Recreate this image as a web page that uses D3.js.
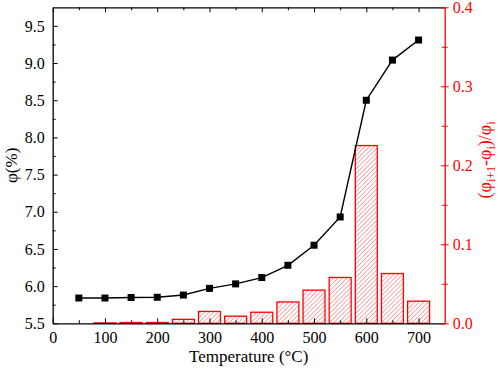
<!DOCTYPE html>
<html>
<head>
<meta charset="utf-8">
<script src="https://cdn.jsdelivr.net/npm/d3@7"></script>
<style>
  body { margin: 0; background: #fff; }
  svg text { font-family: Liberation Serif, Tinos, Times New Roman, Times, serif !important; }
</style>
</head>
<body>
<div id="graph"></div>
<script>
// temperatures (°C)
var temps = [50, 100, 150, 200, 250, 300, 350, 400, 450, 500, 550, 600, 650, 700];
// porosity φ (%)
var phi = [5.84, 5.84, 5.847, 5.85, 5.88, 5.97, 6.03, 6.115, 6.28, 6.55, 6.93, 8.50, 9.04, 9.31];
// relative change (φi+1 - φi)/φi, bars from 100 °C
var barTemps = [100, 150, 200, 250, 300, 350, 400, 450, 500, 550, 600, 650, 700];
var rate = [0.0005, 0.001, 0.001, 0.005, 0.015, 0.009, 0.014, 0.027, 0.042, 0.058, 0.225, 0.063, 0.028];

var xTicks = [0, 100, 200, 300, 400, 500, 600, 700];
var yLeftTicks = [5.5, 6.0, 6.5, 7.0, 7.5, 8.0, 8.5, 9.0, 9.5];
var yRightTicks = [0.0, 0.1, 0.2, 0.3, 0.4];

var width = 498, height = 370;
var pLeft = 52.7, pRight = 444.7, pTop = 7.3, pBottom = 323.3;
var red = '#ff0000';

var svg = d3.select('#graph')
    .append('svg')
        .attr('width', width)
        .attr('height', height);

var x = d3.scaleLinear().domain([0, 750]).range([pLeft, pRight]);
var y = d3.scaleLinear().domain([5.5, 9.75]).range([pBottom, pTop]);
var y2 = d3.scaleLinear().domain([0, 0.4]).range([pBottom, pTop]);

// bars: white fill, red diagonal hatch clipped to each bar, red outline
var barW = x(42) - x(0);
var defs = svg.append('defs');
barTemps.forEach(function(t, i) {
    defs.append('clipPath')
        .attr('id', 'clip' + i)
        .append('rect')
        .attr('x', x(t) - barW / 2)
        .attr('y', y2(rate[i]))
        .attr('width', barW)
        .attr('height', pBottom - y2(rate[i]));
});
var bars = svg.append('g');
barTemps.forEach(function(t, i) {
    var x0 = x(t) - barW / 2, y0 = y2(rate[i]);
    var h = pBottom - y0;
    var g = bars.append('g').attr('clip-path', 'url(#clip' + i + ')');
    g.append('rect')
        .attr('x', x0).attr('y', y0).attr('width', barW).attr('height', h)
        .attr('fill', '#fff');
    var hatch = [];
    for (var s = -barW; s < h + barW; s += 4.5) hatch.push(s);
    g.selectAll('line')
        .data(hatch)
        .enter().append('line')
        .attr('x1', x0)
        .attr('y1', function(s) { return pBottom - s; })
        .attr('x2', x0 + barW)
        .attr('y2', function(s) { return pBottom - s - barW; })
        .attr('stroke', '#ff7070')
        .attr('stroke-width', 0.8);
    bars.append('rect')
        .attr('x', x0).attr('y', y0).attr('width', barW).attr('height', h)
        .attr('fill', 'none')
        .attr('stroke', red)
        .attr('stroke-width', 1.3);
});

// x axis bottom (ticks inward)
svg.append('g')
    .attr('transform', 'translate(0,' + pBottom + ')')
    .call(d3.axisBottom(x).tickValues(xTicks).tickSizeInner(-5).tickSizeOuter(0).tickPadding(8).tickFormat(d3.format('d')));
svg.append('g')
    .attr('transform', 'translate(0,' + pBottom + ')')
    .call(d3.axisBottom(x).tickValues(d3.range(50, 750, 100)).tickSizeInner(-3).tickSizeOuter(0).tickFormat(''))
    .select('.domain').remove();

// top mirror axis
svg.append('g')
    .attr('transform', 'translate(0,' + pTop + ')')
    .call(d3.axisTop(x).tickValues(xTicks).tickSizeInner(-5).tickSizeOuter(0).tickFormat(''));
svg.append('g')
    .attr('transform', 'translate(0,' + pTop + ')')
    .call(d3.axisTop(x).tickValues(d3.range(50, 750, 100)).tickSizeInner(-3).tickSizeOuter(0).tickFormat(''))
    .select('.domain').remove();

// left axis
svg.append('g')
    .attr('transform', 'translate(' + pLeft + ',0)')
    .call(d3.axisLeft(y).tickValues(yLeftTicks).tickSizeInner(-5).tickSizeOuter(0).tickPadding(8).tickFormat(d3.format('.1f')));
svg.append('g')
    .attr('transform', 'translate(' + pLeft + ',0)')
    .call(d3.axisLeft(y).tickValues(d3.range(5.75, 9.75, 0.5)).tickSizeInner(-3).tickSizeOuter(0).tickFormat(''))
    .select('.domain').remove();

// right axis (red), ticks across the line
var rAxis = svg.append('g')
    .attr('transform', 'translate(' + pRight + ',0)')
    .call(d3.axisRight(y2).tickValues(yRightTicks).tickSizeInner(4).tickSizeOuter(0).tickPadding(4).tickFormat(d3.format('.1f')));
rAxis.selectAll('.tick line').attr('x1', -4);
var rMinor = svg.append('g')
    .attr('transform', 'translate(' + pRight + ',0)')
    .call(d3.axisRight(y2).tickValues([0.05, 0.15, 0.25, 0.35]).tickSizeInner(3).tickSizeOuter(0).tickFormat(''));
rMinor.selectAll('.tick line').attr('x1', -3);
rMinor.select('.domain').remove();
rAxis.selectAll('path, line').attr('stroke', red);
rMinor.selectAll('line').attr('stroke', red);
rAxis.selectAll('text').attr('fill', red);

svg.selectAll('g').attr('font-family', null);
svg.selectAll('.domain').attr('stroke-width', 1.3);
svg.selectAll('.tick line').attr('stroke-width', 1);
svg.selectAll('.tick text').attr('font-size', 16);

// line + markers
var line = d3.line()
    .x(function(d) { return x(d); })
    .y(function(d, i) { return y(phi[i]); });
svg.append('path')
    .datum(temps)
    .attr('d', line)
    .attr('fill', 'none')
    .attr('stroke', '#000')
    .attr('stroke-width', 1.4);
svg.append('g')
    .selectAll('rect')
    .data(temps)
    .enter().append('rect')
    .attr('x', function(d) { return x(d) - 3.5; })
    .attr('y', function(d, i) { return y(phi[i]) - 3.5; })
    .attr('width', 7)
    .attr('height', 7)
    .attr('fill', '#000');

// x label
svg.append('text')
    .attr('x', (pLeft + pRight) / 2)
    .attr('y', 362)
    .attr('text-anchor', 'middle')
    .attr('font-size', 17)
    .text('Temperature (°C)');

// left y label
svg.append('text')
    .attr('transform', 'translate(17,' + (pTop + pBottom) / 2 + ') rotate(-90)')
    .attr('text-anchor', 'middle')
    .attr('font-size', 17)
    .text('φ(%)');

// right y label
var rl = svg.append('text')
    .attr('transform', 'translate(491,160) rotate(-90)')
    .attr('text-anchor', 'middle')
    .attr('fill', red)
    .attr('font-size', 18);
rl.append('tspan').text('(φ');
rl.append('tspan').attr('dy', 4).attr('font-size', 12).text('i+1');
rl.append('tspan').attr('dy', -4).text('-φ');
rl.append('tspan').attr('dy', 4).attr('font-size', 12).text('i');
rl.append('tspan').attr('dy', -4).text(')/φ');
rl.append('tspan').attr('dy', 4).attr('font-size', 12).text('i');
</script>
</body>
</html>
